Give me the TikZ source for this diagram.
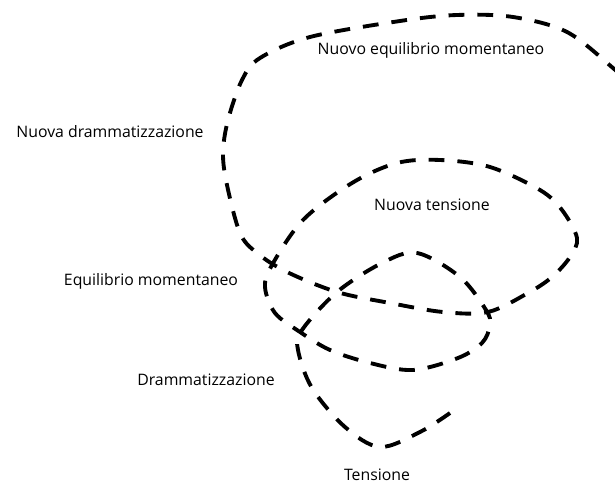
\documentclass[tikz,border=0pt]{standalone}
\usepackage{fontspec}
\setmainfont{Open Sans}
\usepackage{tikz}
\usetikzlibrary{positioning}

\begin{document}
\begin{tikzpicture}[x=0.02cm, y=-0.02cm, font=\fontsize{9}{11}\selectfont,
    spiral/.style={line width=2.2pt, dash pattern=on 9pt off 7.4pt},
    lab/.style={inner sep=0pt, anchor=center}]
    \useasboundingbox (0,0) rectangle (615,483);

    \node [lab] (tens) at (377,475) {Tensione};
    \node [lab] (dram) at (206,380) {Drammatizzazione};
    \node [lab] (equi) at (151,281) {Equilibrio momentaneo};
    \node [lab] (ntens) at (432,205) {Nuova tensione};
    \node [lab] (ndram) at (110,132) {Nuova drammatizzazione};
    \node [lab] (nequi) at (431,50) {Nuovo equilibrio momentaneo};

    \draw [spiral] plot [smooth, tension=0.55] coordinates {
        (450,413) (420,432) (380,447) (345,427) (312,388) (298,350) (302,330)
        (337,292) (382,263) (417,253) (460,277) (486,310) (490,325) (482,343)
        (458,358) (413,370) (370,363) (330,350) (300,332) (275,313) (265,287)
        (272,265) (303,220) (352,183) (397,163) (440,160) (490,167) (540,190)
        (562,210) (577,238) (570,257) (552,277) (528,293) (488,312) (443,312)
        (390,303) (337,292) (287,272) (257,253) (240,233) (227,185) (223,153)
        (228,120) (242,80) (260,58) (310,37) (400,21) (457,15) (513,17)
        (567,32) (613,68) (625,80)};
\end{tikzpicture}
\end{document}
